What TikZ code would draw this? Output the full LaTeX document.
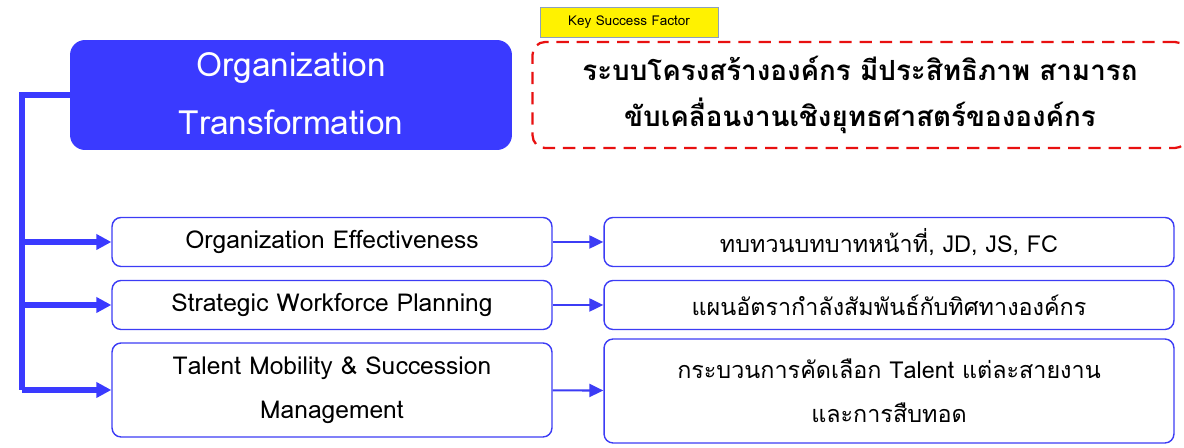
\documentclass[tikz,border=0pt]{standalone}
\usepackage{fontspec}
\setmainfont[Script=Thai]{Loma}
\usepackage{tikz}
\usetikzlibrary{positioning,arrows.meta}
\definecolor{orgblue}{RGB}{58,58,255}
\definecolor{boxblue}{RGB}{60,60,245}
\definecolor{ksfred}{RGB}{232,16,16}
\definecolor{ksfline}{RGB}{140,160,190}
\tikzstyle{mainbox} = [rectangle, rounded corners=0.3cm, minimum width=8.84cm, minimum height=2.2cm, text width=8.5cm, align=center, fill=orgblue, text=white, font=\fontsize{19}{33}\selectfont]
\tikzstyle{tag} = [rectangle, minimum width=3.56cm, minimum height=0.6cm, fill=yellow, draw=ksfline, font=\fontsize{7.7}{10}\selectfont]
\tikzstyle{goal} = [rectangle, rounded corners=0.25cm, minimum width=13.1cm, minimum height=2.12cm, text width=12.5cm, align=center, draw=ksfred, line width=1.3pt, dash pattern=on 7pt off 4.5pt, font=\bfseries\fontsize{15.8}{26}\selectfont]
\tikzstyle{squared} = [rectangle, rounded corners=0.18cm, minimum width=8.8cm, minimum height=0.98cm, text width=8.5cm, align=center, draw=boxblue, thick, fill=white, font=\fontsize{14}{25}\selectfont]
\tikzstyle{wide} = [squared, minimum width=11.4cm, text width=11cm, font=\fontsize{13.3}{25}\selectfont]
\tikzstyle{trunk} = [orgblue, line width=3.3pt]
\tikzstyle{connect} = [trunk, -{Triangle[length=0.3cm,width=0.3cm]}]
\tikzstyle{connect2} = [boxblue, line width=1.2pt, -{Triangle[length=0.28cm,width=0.26cm]}]

\begin{document}
\begin{tikzpicture}[x=0.02cm, y=-0.02cm]
			\useasboundingbox (0,0) rectangle (1184,448);
			\node (org) [mainbox] at (291,95) {\raisebox{2pt}{Organization}\\\raisebox{2pt}{Transformation}};
			\node (goal) [goal] at (860,95) {ระบบโครงสร้างองค์กร มีประสิทธิภาพ สามารถ\\ขับเคลื่อนงานเชิงยุทธศาสตร์ขององค์กร};
			\node (ksf) [tag] at (629,22) {Key Success Factor};
			\node (oe) [squared] at (332,242) {Organization Effectiveness};
			\node (swp) [squared] at (332,305) {Strategic Workforce Planning};
			\node (tms) [squared, minimum height=1.88cm] at (332,390) {Talent Mobility \& Succession\\Management};
			\node (oe-r) [wide] at (889,242) {ทบทวนบทบาทหน้าที่, JD, JS, FC};
			\node (swp-r) [wide] at (889,305) {แผนอัตรากำลังสัมพันธ์กับทิศทางองค์กร};
			\node (tms-r) [wide, minimum height=2.08cm] at (889,391) {กระบวนการคัดเลือก Talent แต่ละสายงาน\\และการสืบทอด};
			\coordinate (base) at (22,390);
			
			\draw [trunk] (org.west) -| (base);
			\draw [connect] (oe.west -| base) -- (oe.west);
			\draw [connect] (swp.west -| base) -- (swp.west);
			\draw [connect] (base) -- (tms.west);
			\draw [connect2] (oe) -- (oe-r);
			\draw [connect2] (swp) -- (swp-r);
			\draw [connect2] (tms) -- (tms-r);
			\end{tikzpicture}
\end{document}
